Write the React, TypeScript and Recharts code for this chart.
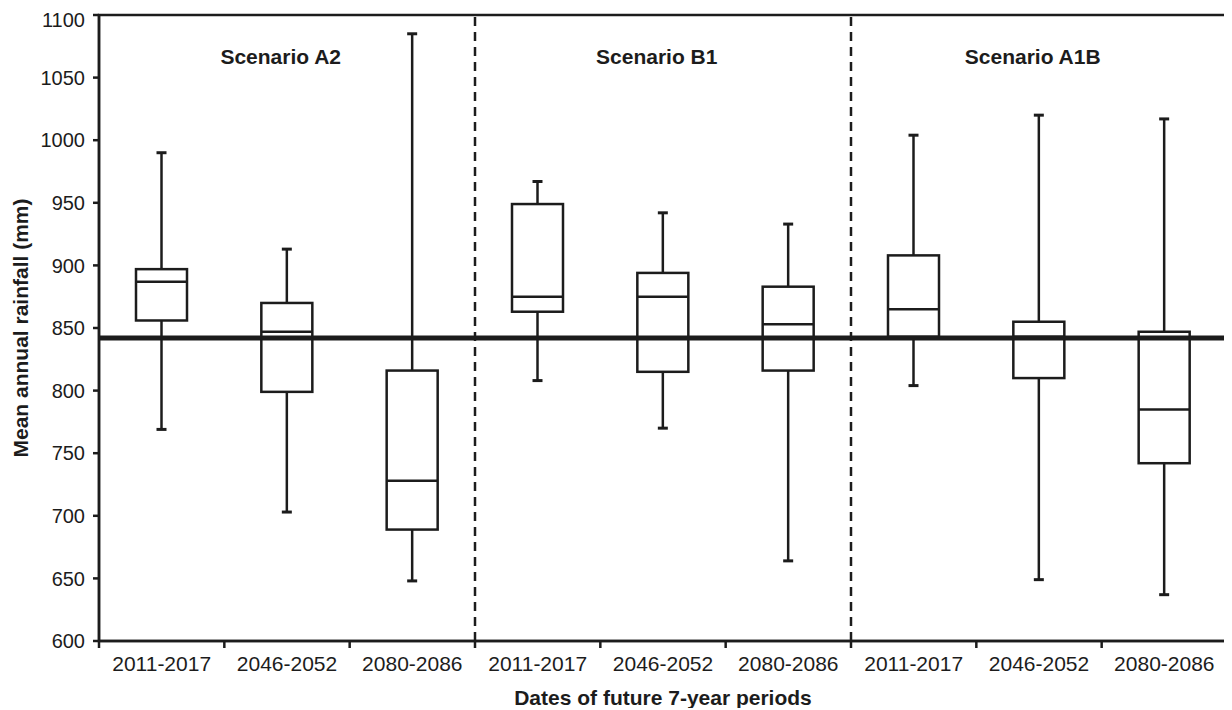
import {
  ComposedChart,
  Bar,
  XAxis,
  YAxis,
  ReferenceLine,
  ReferenceArea,
} from 'recharts';

// Scenario groups and 7-year periods (one box per period per scenario)
const scenarios = ['Scenario A2', 'Scenario B1', 'Scenario A1B'];
const periods = ['2011-2017', '2046-2052', '2080-2086'];

// Box plot statistics, in scenario order A2, B1, A1B
const whiskerLow = [769, 703, 648, 808, 770, 664, 804, 649, 637];
const q1 = [856, 799, 689, 863, 815, 816, 843, 810, 742];
const median = [887, 847, 728, 875, 875, 853, 865, 843, 785];
const q3 = [897, 870, 816, 949, 894, 883, 908, 855, 847];
const whiskerHigh = [990, 913, 1085, 967, 942, 933, 1004, 1020, 1017];

// Observed baseline mean annual rainfall
const baseline = 842;

const yTicks = [600, 650, 700, 750, 800, 850, 900, 950, 1000, 1050, 1100];

const INK = '#1c1c1c';
const FONT = '"Liberation Sans", Arial, sans-serif';

const data = whiskerLow.map((low, i) => ({
  x: i + 0.5,
  period: periods[i % 3],
  range: [low, whiskerHigh[i]],
  low,
  q1: q1[i],
  median: median[i],
  q3: q3[i],
  high: whiskerHigh[i],
}));

const boundaryTicks = [0, 1, 2, 3, 4, 5, 6, 7, 8, 9];
const centerTicks = data.map(d => d.x);

function BoxShape(props: any) {
  const { x, y, width, height, payload } = props;
  if (height == null || width == null) return null;
  const top = Math.min(y, y + height);
  const span = Math.abs(height);
  const { low, high } = payload;
  // map a value onto the pixel span that the bar scale gave us
  const py = (v: number) => top + ((high - v) / (high - low)) * span;
  const cx = x + width / 2;
  const cap = 5;
  const yQ1 = py(payload.q1);
  const yQ3 = py(payload.q3);
  const yMed = py(payload.median);
  return (
    <g stroke={INK} fill="none">
      <line x1={cx} x2={cx} y1={py(high)} y2={yQ3} strokeWidth={2.5} />
      <line x1={cx} x2={cx} y1={yQ1} y2={py(low)} strokeWidth={2.5} />
      <line x1={cx - cap} x2={cx + cap} y1={py(high)} y2={py(high)} strokeWidth={3} />
      <line x1={cx - cap} x2={cx + cap} y1={py(low)} y2={py(low)} strokeWidth={3} />
      <rect x={x} y={yQ3} width={width} height={yQ1 - yQ3} strokeWidth={2.5} fill="#fff" />
      <line x1={x} x2={x + width} y1={yMed} y2={yMed} strokeWidth={2.5} />
    </g>
  );
}

export default function App() {
  const tickStyle = { fontSize: 20, fill: INK, fontFamily: FONT };
  const xTickStyle = { ...tickStyle, fontSize: 21 };
  const titleStyle = { fontSize: 21, fontWeight: 'bold', fill: INK, fontFamily: FONT };
  return (
    <div style={{ width: 1224, height: 700, background: '#fff' }}>
      <ComposedChart
        width={1224}
        height={700}
        data={data}
        margin={{ top: 7, right: 5, left: 0, bottom: 0 }}
      >
        {/* boundary tick marks between periods */}
        <XAxis
          xAxisId="a"
          dataKey="x"
          type="number"
          domain={[0, 9]}
          ticks={boundaryTicks}
          tickFormatter={() => ''}
          tickSize={7}
          height={8}
          stroke={INK}
          strokeWidth={2.5}
          allowDataOverflow
        />
        {/* period labels, centred under each box */}
        <XAxis
          xAxisId="z"
          dataKey="x"
          type="number"
          domain={[0, 9]}
          ticks={centerTicks}
          tickFormatter={(_v: number, i: number) => periods[i % 3]}
          axisLine={false}
          tickLine={false}
          tickSize={2}
          tickMargin={5}
          height={59}
          tick={xTickStyle}
          allowDataOverflow
          label={{
            value: 'Dates of future 7-year periods',
            position: 'insideBottom',
            offset: 3,
            style: titleStyle,
          }}
        />
        <YAxis
          domain={[600, 1100]}
          ticks={yTicks}
          width={91}
          tickSize={6}
          tickMargin={8}
          stroke={INK}
          strokeWidth={2.5}
          tick={tickStyle}
          allowDataOverflow
          label={{
            value: 'Mean annual rainfall (mm)',
            angle: -90,
            position: 'insideLeft',
            offset: 13,
            style: { ...titleStyle, textAnchor: 'middle' },
          }}
        />

        {/* plot frame */}
        <ReferenceArea
          xAxisId="a"
          x1={0}
          x2={9}
          y1={600}
          y2={1100}
          fill="none"
          stroke={INK}
          strokeWidth={2.5}
          fillOpacity={0}
        />

        {/* scenario titles */}
        {scenarios.map((s, i) => (
          <ReferenceArea
            key={s}
            xAxisId="a"
            x1={i * 3}
            x2={i * 3 + 2.9}
            y1={600}
            y2={1100}
            fill="none"
            fillOpacity={0}
            stroke="none"
            label={{
              value: s,
              position: 'insideTop',
              offset: 34,
              style: titleStyle,
            }}
          />
        ))}

        <Bar
          xAxisId="a"
          dataKey="range"
          barSize={51}
          shape={<BoxShape />}
          isAnimationActive={false}
        />

        <ReferenceLine xAxisId="a" x={3} stroke={INK} strokeWidth={2.5} strokeDasharray="9 6" />
        <ReferenceLine xAxisId="a" x={6} stroke={INK} strokeWidth={2.5} strokeDasharray="9 6" />
        <ReferenceLine xAxisId="a" y={baseline} stroke={INK} strokeWidth={5} />
      </ComposedChart>
    </div>
  );
}
